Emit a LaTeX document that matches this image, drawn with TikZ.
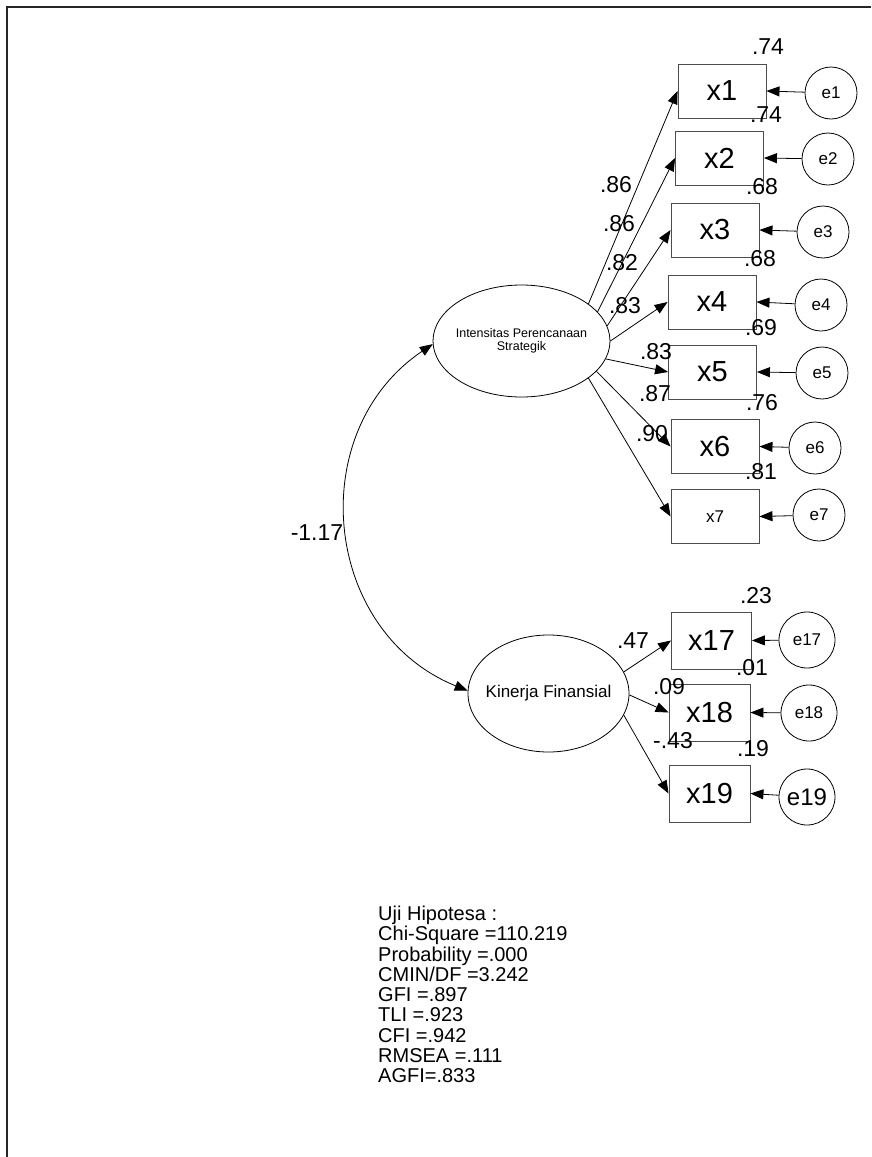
\documentclass[tikz,border=0pt]{standalone}
\usepackage{fontspec}
\setmainfont{Liberation Sans}
\usetikzlibrary{shapes.geometric, arrows.meta}

\begin{document}
\begin{tikzpicture}[
    x=1pt, y=1pt,
    every node/.style={align=center},
    obs/.style={draw=black!70, line width=0.9pt, rectangle, minimum width=88pt, minimum height=54pt, inner sep=0pt, font=\fontsize{29}{32}\selectfont},
    obsb/.style={obs, minimum width=80pt, minimum height=57pt},
    err/.style={draw, circle, line width=0.8pt, minimum size=52pt, inner sep=0pt, font=\fontsize{17}{19}\selectfont},
    errb/.style={err, minimum size=56pt},
    latent/.style={draw, ellipse, line width=0.8pt, inner sep=0pt},
    path/.style={-{Triangle[length=13pt,width=10pt]}, line width=0.8pt},
    num/.style={inner sep=0pt, font=\fontsize{23}{26}\selectfont}
]

    % page size and frame
    \useasboundingbox (0,0) rectangle (871,-1157);
    \draw[line width=1.6pt, black!85] (7,-1157) -- (7,-7) -- (871,-7);

    % Latent variables
    \node[latent, minimum width=177pt, minimum height=112pt,
          label={[font=\fontsize{12.5}{13}\selectfont, align=center]center:Intensitas Perencanaan\\Strategik}] (ips) at (521.5,-341) {};
    \node[latent, minimum width=161pt, minimum height=117pt,
          label={[font=\fontsize{17}{19}\selectfont]center:Kinerja Finansial}] (kf) at (548.5,-693.5) {};

    % Indicators
    \node[obs] (x1) at (722,-91) {x1};
    \node[obs] (x2) at (719.5,-158) {x2};
    \node[obs] (x3) at (715,-230) {x3};
    \node[obs] (x4) at (712,-302) {x4};
    \node[obs] (x5) at (712.5,-372) {x5};
    \node[obs] (x6) at (715,-446.5) {x6};
    \node[obs, font=\fontsize{17}{19}\selectfont] (x7) at (715,-516.5) {x7};
    \node[obsb] (x17) at (711.5,-640.5) {x17};
    \node[obsb, minimum width=81pt] (x18) at (709.5,-712.5) {x18};
    \node[obsb, minimum width=81pt] (x19) at (709.5,-793.5) {x19};

    % Error terms
    \node[err] (e1) at (831,-93) {e1};
    \node[err] (e2) at (828,-159) {e2};
    \node[err] (e3) at (823,-232) {e3};
    \node[err] (e4) at (821,-305) {e4};
    \node[err] (e5) at (822,-373) {e5};
    \node[err] (e6) at (815,-448) {e6};
    \node[err] (e7) at (819,-515) {e7};
    \node[errb] (e17) at (807,-640) {e17};
    \node[errb] (e18) at (809,-713) {e18};
    \node[errb, font=\fontsize{24}{26}\selectfont] (e19) at (807,-797) {e19};

    % Loadings
    \draw[path] (ips.29) -- (x1.west);
    \draw[path] (ips.21) -- (x2.west);
    \draw[path] (ips.10) -- (x3.west);
    \draw[path] (ips.0) -- (x4.west);
    \draw[path] (ips.-12) -- (x5.west);
    \draw[path] (ips.-22) -- (x6.west);
    \draw[path] (ips.-29) -- (x7.west);
    \draw[path] (kf.16) -- (x17.west);
    \draw[path] (kf.-1) -- (x18.west);
    \draw[path] (kf.-16) -- (x19.west);

    % Errors into indicators
    \draw[path] (e1) -- (x1.east);
    \draw[path] (e2) -- (x2.east);
    \draw[path] (e3) -- (x3.east);
    \draw[path] (e4) -- (x4.east);
    \draw[path] (e5) -- (x5.east);
    \draw[path] (e6) -- (x6.east);
    \draw[path] (e7) -- (x7.east);
    \draw[path] (e17) -- (x17.east);
    \draw[path] (e18) -- (x18.east);
    \draw[path] (e19) -- (x19.east);

    % Covariance
    \draw[{Triangle[length=13pt,width=10pt]}-{Triangle[length=13pt,width=10pt]}, line width=0.8pt]
        (ips.182) to[out=214, in=158, looseness=1.15] (kf.178);
    \node[num] (cov) at (317,-533) {-1.17};

    % Loading estimates
    \node[num] (l1) at (616,-185) {.86};
    \node[num] (l2) at (619,-224) {.86};
    \node[num] (l3) at (622,-263) {.82};
    \node[num] (l4) at (625,-306) {.83};
    \node[num] (l5) at (656,-352) {.83};
    \node[num] (l6) at (655,-394) {.87};
    \node[num] (l7) at (652,-434) {.90};
    \node[num] (l17) at (633,-641) {.47};
    \node[num] (l18) at (669,-687) {.09};
    \node[num] (l19) at (673,-741) {-.43};

    % Squared multiple correlations
    \node[num] (r1) at (768,-47) {.74};
    \node[num] (r2) at (766,-115) {.74};
    \node[num] (r3) at (762,-187) {.68};
    \node[num] (r4) at (760,-259) {.68};
    \node[num] (r5) at (761,-328) {.69};
    \node[num] (r6) at (762,-403) {.76};
    \node[num] (r7) at (761,-472) {.81};
    \node[num] (r17) at (756,-596) {.23};
    \node[num] (r18) at (752,-668) {.01};
    \node[num] (r19) at (753,-749) {.19};

    % Fit statistics
    \node[anchor=north west, align=left, inner sep=0pt, font=\fontsize{20}{20.25}\selectfont] (fit) at (378,-906)
        {Uji Hipotesa :\\Chi-Square =110.219\\Probability =.000\\CMIN/DF =3.242\\GFI =.897\\TLI =.923\\CFI =.942\\RMSEA =.111\\AGFI=.833};

\end{tikzpicture}
\end{document}
